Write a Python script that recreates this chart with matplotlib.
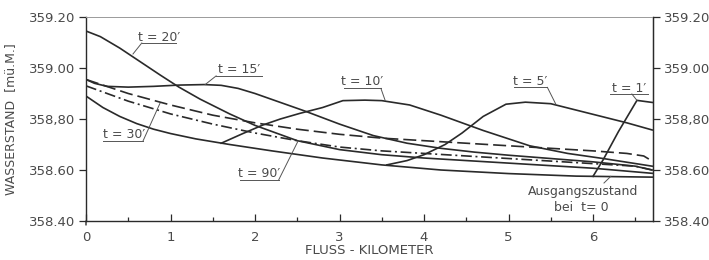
import numpy as np
import matplotlib
matplotlib.use("Agg")
import matplotlib.pyplot as plt

# ---- data (km, water level m ü.M.) ----
km_t0 = [0, 0.2, 0.4, 0.6, 0.8, 1.0, 1.3, 1.7, 2.2, 2.8, 3.5, 4.2, 5.0, 5.8, 6.7]
wl_t0 = [358.89, 358.845, 358.81, 358.782, 358.76, 358.743, 358.722, 358.70, 358.675, 358.647, 358.62, 358.60, 358.586, 358.576, 358.572]

km_t1 = [6.0, 6.12, 6.3, 6.52, 6.7]
wl_t1 = [358.575, 358.64, 358.75, 358.873, 358.865]

km_t5 = [3.56, 3.8, 4.0, 4.25, 4.45, 4.7, 4.97, 5.2, 5.5, 5.8, 6.1, 6.4, 6.7]
wl_t5 = [358.62, 358.637, 358.66, 358.70, 358.745, 358.81, 358.858, 358.866, 358.86, 358.835, 358.81, 358.785, 358.757]

km_t10 = [1.6, 1.85, 2.09, 2.3, 2.53, 2.8, 3.04, 3.3, 3.5, 3.83, 4.2, 4.7, 5.25, 5.7, 6.12, 6.7]
wl_t10 = [358.705, 358.742, 358.776, 358.80, 358.822, 358.845, 358.872, 358.874, 358.872, 358.855, 358.815, 358.755, 358.695, 358.665, 358.645, 358.615]

km_t15 = [0, 0.1, 0.25, 0.5, 0.8, 1.1, 1.4, 1.6, 1.8, 2.0, 2.3, 2.6, 3.0, 3.4, 3.8, 4.2, 4.6, 5.0, 5.5, 6.0, 6.5, 6.7]
wl_t15 = [358.955, 358.94, 358.928, 358.925, 358.928, 358.933, 358.935, 358.932, 358.92, 358.90, 358.865, 358.83, 358.78, 358.735, 358.705, 358.685, 358.67, 358.658, 358.645, 358.632, 358.615, 358.60]

km_t20 = [0, 0.17, 0.4, 0.64, 0.88, 1.1, 1.35, 1.7, 2.0, 2.5, 3.0, 3.5, 4.0, 4.5, 5.0, 5.5, 6.0, 6.7]
wl_t20 = [359.145, 359.123, 359.078, 359.025, 358.972, 358.925, 358.878, 358.82, 358.775, 358.715, 358.68, 358.66, 358.647, 358.637, 358.627, 358.617, 358.607, 358.587]

km_t30 = [0, 0.5, 1.0, 1.5, 2.0, 2.5, 3.0, 3.5, 4.0, 4.5, 5.0, 5.5, 6.0, 6.4, 6.6, 6.7]
wl_t30 = [358.955, 358.90, 358.855, 358.815, 358.785, 358.76, 358.74, 358.725, 358.715, 358.705, 358.695, 358.685, 358.675, 358.665, 358.655, 358.635]

km_t90 = [0, 0.5, 1.0, 1.5, 2.0, 2.5, 3.0, 3.5, 4.0, 4.5, 5.0, 5.5, 6.0, 6.5, 6.7]
wl_t90 = [358.93, 358.87, 358.82, 358.78, 358.745, 358.715, 358.69, 358.675, 358.665, 358.655, 358.645, 358.635, 358.625, 358.615, 358.60]

x_ticks = [0, 1, 2, 3, 4, 5, 6]
y_ticks = [358.40, 358.60, 358.80, 359.00, 359.20]
y_labels_left = ["358.40", "358.60", "358,80", "359.00", "359.20"]
y_labels_right = ["358.40", "358.60", "358,80", "359.00", "359.20"]

ink = "#2a2a2a"
txt = "#4a4a4a"

fig = plt.figure(figsize=(7.09, 2.60), dpi=100)
ax = fig.add_axes([86/709, 1-221/260, (653-86)/709, (221-17)/260])
ax.set_xlim(0, 6.71)
ax.set_ylim(358.40, 359.20)

lw = 1.2
for k, w in [(km_t0, wl_t0), (km_t1, wl_t1), (km_t5, wl_t5), (km_t10, wl_t10),
             (km_t15, wl_t15), (km_t20, wl_t20)]:
    ax.plot(k, w, color=ink, lw=lw, solid_joinstyle="round")
ax.plot(km_t30, wl_t30, color=ink, lw=lw, dashes=(7.8, 3.0))
ax.plot(km_t90, wl_t90, color=ink, lw=lw, dashes=(6.5, 2.2, 1.2, 2.2))

# spines
for s in ["left", "right", "bottom"]:
    ax.spines[s].set_color(ink)
    ax.spines[s].set_linewidth(1.0)
ax.spines["top"].set_color("#9a9a9a")
ax.spines["top"].set_linewidth(0.7)

ax.set_xticks(x_ticks)
ax.set_xticklabels([str(v) for v in x_ticks])
ax.set_xticks(np.arange(0.5, 6.6, 1.0), minor=True)
ax.tick_params(axis="x", which="major", direction="in", length=5, width=0.9,
               color=ink, labelsize=9.5, labelcolor=txt, pad=7)
ax.tick_params(axis="x", which="minor", direction="in", length=3, width=0.9, color=ink)
ax.set_yticks(y_ticks)
ax.set_yticklabels(y_labels_left)
ax.tick_params(axis="y", which="major", direction="out", length=5, width=0.9,
               color=ink, labelsize=9.5, labelcolor=txt, pad=3)

# small extension of the left axis below the origin
ax.annotate("", xy=(0, 0), xycoords="axes fraction", xytext=(0, -4), textcoords="offset pixels",
            arrowprops=dict(arrowstyle="-", color=ink, lw=1.0, shrinkA=0, shrinkB=0))

ax2 = ax.twinx()
ax2.set_ylim(358.40, 359.20)
ax2.set_yticks(y_ticks)
ax2.set_yticklabels(y_labels_right)
ax2.tick_params(axis="y", which="major", direction="out", length=5, width=0.9,
                color=ink, labelsize=9.5, labelcolor=txt, pad=3)
for s in ["left", "top", "bottom"]:
    ax2.spines[s].set_visible(False)
ax2.spines["right"].set_color(ink)

fig.text((86 + 653) / 2 / 709, 1 - 251/260, "FLUSS - KILOMETER", fontsize=9.5,
         color=txt, ha="center", va="center")
ax.set_ylabel("WASSERSTAND  [mü.M.]", fontsize=9, color=txt, labelpad=8)

# curve labels: (text, text_x, text_y, underline x0, x1, underline y, leader start x, leader end (x, y))
labels = [
    ("t = 20\u2032", 0.87, 359.118, 0.66, 1.07, 359.098, 0.66, (0.556, 359.055)),
    ("t = 15\u2032", 1.81, 358.996, 1.54, 2.08, 358.969, 1.54, (1.41, 358.935)),
    ("t = 10\u2032", 3.27, 358.949, 3.05, 3.49, 358.920, 3.49, (3.54, 358.873)),
    ("t = 5\u2032", 5.26, 358.949, 5.07, 5.46, 358.924, 5.46, (5.56, 358.858)),
    ("t = 1\u2032", 6.43, 358.920, 6.20, 6.65, 358.898, 6.46, (6.52, 358.873)),
    ("t = 30\u2032", 0.45, 358.741, 0.20, 0.675, 358.714, 0.675, (0.876, 358.862)),
    ("t = 90\u2032", 2.05, 358.588, 1.82, 2.28, 358.561, 2.28, (2.51, 358.714)),
]
for s, tx, ty, u0, u1, uy, lx, (ex, ey) in labels:
    ax.text(tx, ty, s, fontsize=9, color=txt, ha="center", va="center")
    ax.plot([u0, u1], [uy, uy], color="#555555", lw=0.7)
    ax.plot([lx, ex], [uy, ey], color="#555555", lw=0.7)

ax.text(5.88, 358.514, "Ausgangszustand", fontsize=9, color=txt, ha="center", va="center")
ax.text(5.86, 358.451, "bei  t= 0", fontsize=9, color=txt, ha="center", va="center")
ax.plot([6.13, 6.21], [358.549, 358.575], color="#555555", lw=0.7)

fig.savefig("out.png", dpi=100)
